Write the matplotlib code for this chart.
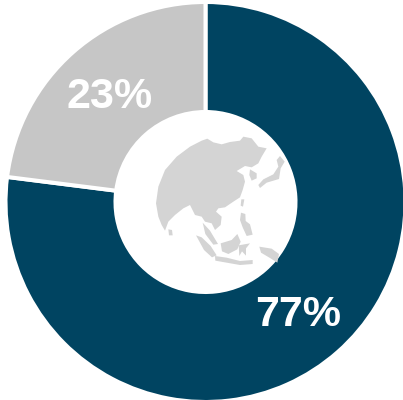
import matplotlib
matplotlib.use('Agg')
import matplotlib.pyplot as plt
import numpy as np

shares = [77, 23]
share_labels = ['77%', '23%']
colors = ['#004461', '#C6C6C6']

asia = [(215,92),(232,86),(250,97),(275,103),(300,96),(330,92),(340,80),(365,85),(385,110),(410,115),
        (395,140),(385,160),(365,172),(345,168),(320,183),(340,195),(345,215),(338,240),(330,262),(310,275),
        (285,292),(265,295),(258,305),(275,320),(272,345),(255,360),(245,340),(225,335),(215,320),(195,315),
        (180,285),(160,295),(135,315),(115,335),(105,362),(95,345),(85,320),(78,280),(85,230),(105,180),
        (140,140),(180,110)]
korea = [(360,178),(380,190),(380,205),(365,212),(358,195)]
japan = [(385,225),(400,208),(430,193),(445,170),(440,150),(450,138),(464,155),(452,175),(447,207),(410,218),(390,234)]
sri_lanka = [(115,358),(126,360),(128,376),(117,376)]
malaya = [(218,338),(240,362),(264,402),(250,404),(226,372)]
sumatra = [(198,376),(215,382),(242,408),(260,436),(246,442),(222,420)]
java = [(255,438),(290,443),(330,453),(368,450),(368,462),(330,465),(290,458),(256,452)]
borneo = [(272,400),(305,390),(322,372),(332,395),(322,418),(295,432),(276,424)]
sulawesi = [(326,406),(360,400),(348,415),(348,437),(336,424),(328,438)]
philippines = [(333,308),(346,312),(347,333),(360,343),(368,374),(350,378),(338,352),(330,330)]
taiwan = [(334,268),(343,268),(339,290),(332,287)]
new_guinea = [(388,410),(425,416),(447,432),(442,458),(420,444),(393,428)]
lands = [asia, korea, japan, sri_lanka, malaya, sumatra, java, borneo, sulawesi, philippines, taiwan, new_guinea]

fig = plt.figure(figsize=(4.03, 4.00), dpi=100)
ax = fig.add_axes([0, 0, 1, 1])
ax.pie(shares, colors=colors, startangle=90, counterclock=False, center=(205.5, 198), radius=200,
       wedgeprops={'width': 110, 'edgecolor': 'white', 'linewidth': 2.9}, frame=True)
ax.set_xlim(0, 403)
ax.set_ylim(0, 400)
ax.axis('off')

# land is grey on white, on top of the hole
for land in lands:
    pts = np.array(land, dtype=float)
    ax.fill(130 + pts[:, 0] / 3, 400 - (110 + pts[:, 1] / 3), color='#D4D4D4', lw=0)

ax.text(298, 400 - 314.5, share_labels[0], color='white', fontsize=31, fontweight='bold',
        family='Liberation Sans', ha='center', va='center')
ax.text(110, 400 - 97, share_labels[1], color='white', fontsize=31, fontweight='bold',
        family='Liberation Sans', ha='center', va='center')

fig.savefig('out.png', dpi=100)
